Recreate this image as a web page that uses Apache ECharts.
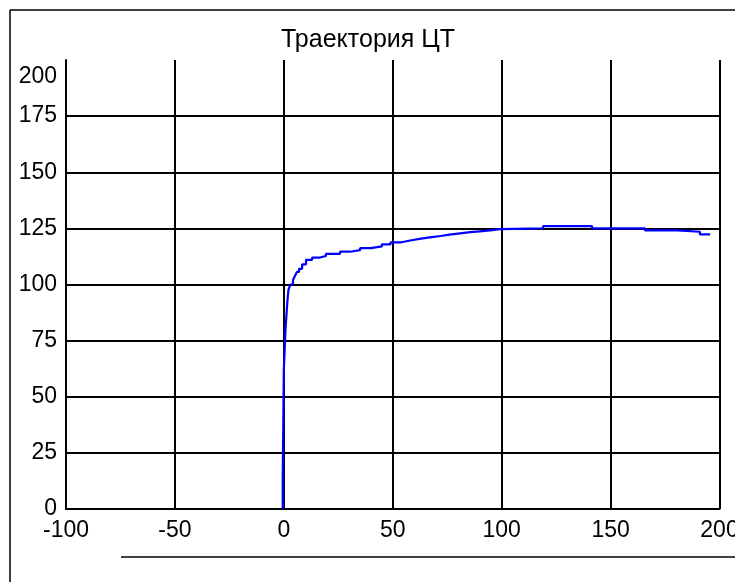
<!DOCTYPE html>
<html>
<head>
<meta charset="utf-8">
<script src="https://cdn.jsdelivr.net/npm/echarts@6/dist/echarts.min.js"></script>
<style>html,body{margin:0;padding:0;background:#fff;}#c{width:735px;height:582px;}</style>
</head>
<body>
<div id="c"></div>
<script>
// Trajectory of the centre of gravity (step readings)
const trajX = [-0.5, 0, 0.8, 1.6, 2.1, 3, 4.2, 5.1, 6, 7, 8.4, 10.2, 13, 16.6, 19.3, 25.8, 30.4, 35, 40, 45, 49, 54, 58, 63, 67, 72, 76, 81, 85.5, 90, 94.7, 99.3, 119, 141.5, 145, 165.8, 180.5, 191, 195.7];
const trajY = [0, 14, 62, 80.6, 92, 97.5, 100, 102, 103.8, 105.6, 107, 109, 111, 112, 112.7, 113.6, 114.6, 115.3, 116.2, 117, 117.9, 118.8, 119.6, 120.4, 121, 121.6, 122.2, 122.8, 123.3, 123.7, 124.1, 124.7, 125, 126, 125, 125, 124.1, 123.5, 122.3];
const xTicks = [-100, -50, 0, 50, 100, 150, 200];
const yTicks = [0, 25, 50, 75, 100, 125, 150, 175, 200];
const titleText = 'Траектория ЦТ';

const chart = echarts.init(document.getElementById('c'), null, {renderer: 'canvas'});
const font = '"Liberation Sans", Arial, sans-serif';
chart.setOption({
  animation: false,
  backgroundColor: '#fff',
  title: {
    text: titleText, left: 363, top: 23, textAlign: 'center',
    textStyle: {fontFamily: font, fontSize: 25, fontWeight: 'normal', color: '#000'}
  },
  grid: {left: 66, right: 15.5, top: 60, bottom: 73, containLabel: false, outerBoundsMode: 'none'},
  xAxis: {
    type: 'value', min: xTicks[0], max: xTicks[xTicks.length - 1], interval: 50,
    axisLine: {show: true, onZero: false, lineStyle: {color: '#000', width: 2}},
    axisTick: {show: false},
    axisLabel: {fontFamily: font, fontSize: 23, color: '#000', margin: 10, showMaxLabel: true, showMinLabel: true, hideOverlap: false},
    splitLine: {show: true, showMinLine: false, lineStyle: {color: '#000', width: 2}}
  },
  yAxis: {
    type: 'value', min: yTicks[0], max: yTicks[yTicks.length - 1], interval: 25,
    axisLine: {show: true, onZero: false, lineStyle: {color: '#000', width: 2}},
    axisTick: {show: false},
    axisLabel: {
      fontFamily: font, fontSize: 23, color: '#000', margin: 9,
      formatter: function (v) { return v === 200 ? '{top|' + v + '}' : String(v); },
      rich: {top: {fontFamily: font, fontSize: 23, color: '#000', padding: [34, 0, 0, 0]}}
    },
    splitLine: {show: true, showMinLine: false, showMaxLine: false, lineStyle: {color: '#000', width: 2}}
  },
  graphic: [
    {type: 'line', shape: {x1: 10, y1: 10, x2: 735, y2: 10}, style: {stroke: '#000', lineWidth: 1.5}},
    {type: 'line', shape: {x1: 10, y1: 10, x2: 10, y2: 582}, style: {stroke: '#000', lineWidth: 1.5}},
    {type: 'line', shape: {x1: 121, y1: 557, x2: 735, y2: 557}, style: {stroke: '#000', lineWidth: 1.5}}
  ],
  series: [{
    type: 'line',
    step: 'start',
    showSymbol: false,
    data: trajX.map((x, i) => [x, trajY[i]]),
    lineStyle: {color: '#0000ff', width: 2.2},
    z: 5
  }]
});
</script>
</body>
</html>
